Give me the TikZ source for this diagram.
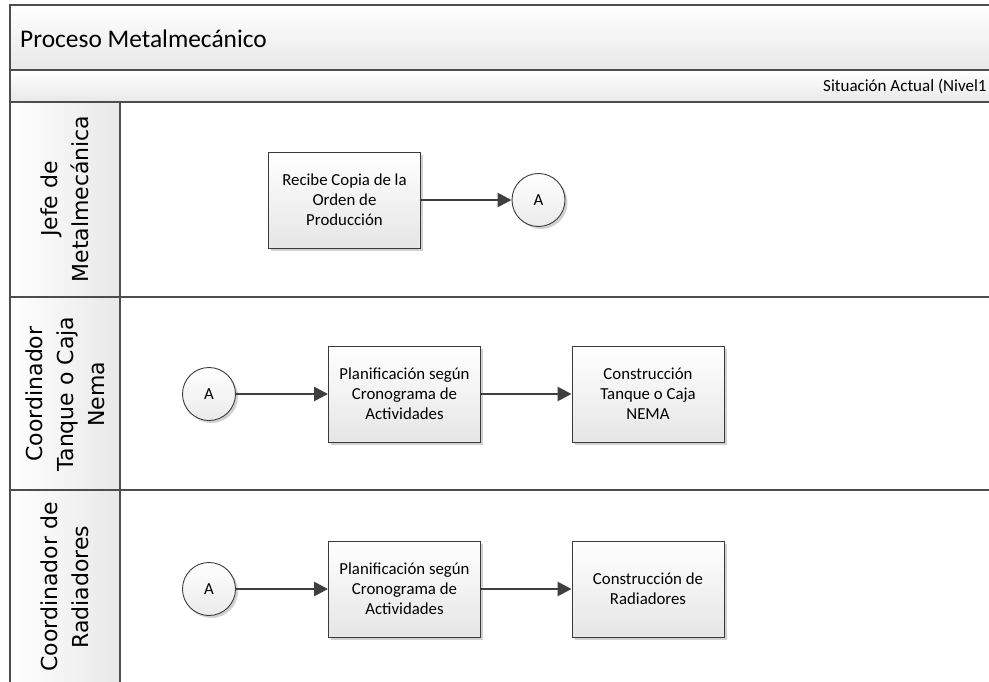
\documentclass[tikz,border=0pt]{standalone}
\usepackage{fontspec}
\setmainfont{Carlito}
\newfontfamily\lanefont{DejaVu Sans}
\usetikzlibrary{arrows.meta,shadows}

\definecolor{frameline}{HTML}{4D4D4D}
\definecolor{boxline}{HTML}{3A3A3A}
\definecolor{flowline}{HTML}{3F3F3F}

\tikzset{
  bandline/.style={draw=frameline, line width=1.5pt},
  lanelabel/.style={font=\lanefont\fontsize{22}{31}\selectfont, align=center, inner sep=0pt, rotate=90},
  task/.style={draw=boxline, line width=0.9pt, top color=white, bottom color=black!10,
    minimum width=152pt, minimum height=96pt, align=center, inner sep=2pt,
    font=\fontsize{16.8}{20}\selectfont,
    drop shadow={shadow xshift=2.5pt, shadow yshift=-2.5pt, fill=black!40, opacity=0.45}},
  conn/.style={circle, draw=boxline, line width=0.9pt, top color=white, bottom color=black!8,
    minimum size=53pt, inner sep=0pt, font=\fontsize{16.8}{20}\selectfont,
    drop shadow={shadow xshift=2.5pt, shadow yshift=-2.5pt, fill=black!40, opacity=0.45}},
  flow/.style={draw=flowline, line width=2.6pt, -{Triangle[length=14pt,width=14pt]}},
}

\begin{document}
\begin{tikzpicture}[x=1pt, y=-1pt]
  \useasboundingbox (0,0) rectangle (989,681);
  \clip (0,0) rectangle (989,681);
  \fill[white] (0,0) rectangle (989,681);

  % pool header and sub-header bands
  \path[top color=white, bottom color=black!9] (10,5) rectangle (1000,70);
  \path[top color=white, bottom color=black!9] (10,70) rectangle (1000,102);
  % lane label column
  \path[left color=white, right color=black!9] (10,102) rectangle (120,700);

  % pool and lane borders
  \draw[bandline] (1000,5) -- (10,5) -- (10,700);
  \draw[bandline] (10,70) -- (1000,70);
  \draw[bandline] (10,102) -- (1000,102);
  \draw[bandline] (10,297) -- (1000,297);
  \draw[bandline] (10,490) -- (1000,490);
  \draw[bandline] (120,102) -- (120,700);

  % titles
  \node[anchor=base west, inner sep=0pt, font=\fontsize{25.4}{30}\selectfont] (title) at (20,47) {Proceso Metalmecánico};
  \node[anchor=base west, inner sep=0pt, font=\fontsize{17}{20}\selectfont] (level) at (823,91) {Situación Actual (Nivel1};

  % lane labels
  \node[lanelabel] (lane1) at (65,199) {Jefe de\\Metalmecánica};
  \node[lanelabel] (lane2) at (65,394) {Coordinador\\Tanque o Caja\\Nema};
  \node[lanelabel] (lane3) at (65,587) {Coordinador de\\Radiadores};

  % lane 1
  \node[task] (recibe) at (344.5,200) {Recibe Copia de la\\Orden de\\Producción};
  \node[conn] (a1) at (538.5,200) {A};
  \draw[flow] (recibe) -- (a1);

  % lane 2
  \node[conn] (a2) at (209,394) {A};
  \node[task] (plan2) at (404.5,394) {Planificación según\\Cronograma de\\Actividades};
  \node[task] (tanque) at (648,394) {Construcción\\Tanque o Caja\\NEMA};
  \draw[flow] (a2) -- (plan2);
  \draw[flow] (plan2) -- (tanque);

  % lane 3
  \node[conn] (a3) at (209,589) {A};
  \node[task] (plan3) at (404.5,589) {Planificación según\\Cronograma de\\Actividades};
  \node[task] (radiad) at (648,589) {Construcción de\\Radiadores};
  \draw[flow] (a3) -- (plan3);
  \draw[flow] (plan3) -- (radiad);
\end{tikzpicture}
\end{document}
